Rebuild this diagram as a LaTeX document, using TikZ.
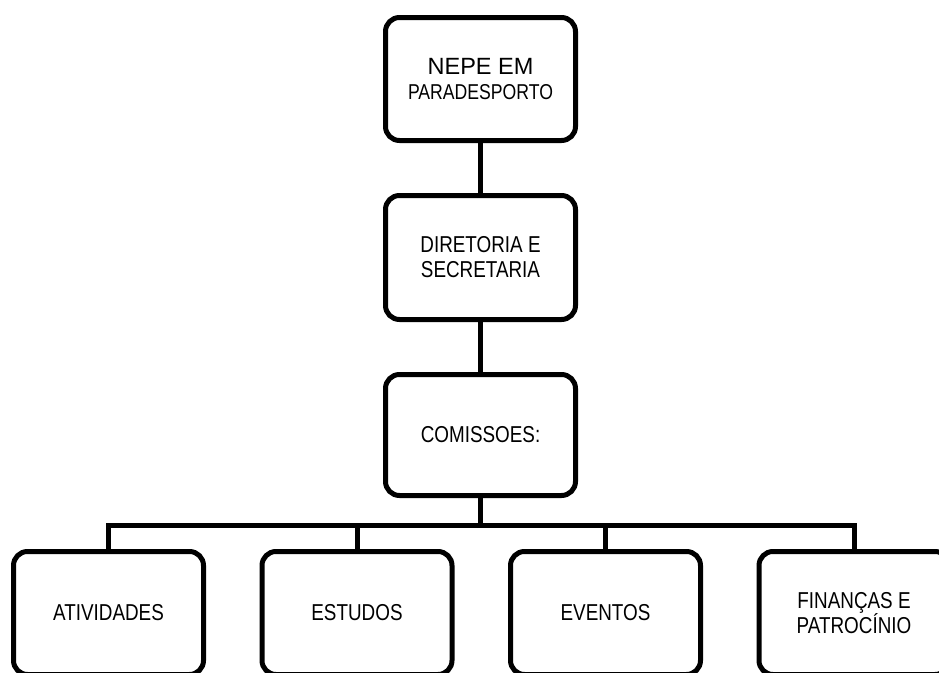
\documentclass[tikz,border=0pt]{standalone}
\usepackage{fontspec}
\setmainfont{Liberation Sans}[FakeStretch=0.82]
\newfontfamily\widefont{Liberation Sans}
\usetikzlibrary{positioning}

\begin{document}
\begin{tikzpicture}[x=1pt,y=1pt,
		box/.style = {draw,line width=5pt,rounded corners=14pt,align=center,
			minimum width=190pt,minimum height=123pt,inner sep=2pt,
			font=\fontsize{23}{25}\selectfont},
		link/.style = {line width=5pt}]
		\clip (0,0) rectangle (939,-672);
		\node [box] (nepe) at (480.5,-79) {{\widefont\fontsize{23.5}{26}\selectfont NEPE EM}\\{\fontsize{21.5}{25}\selectfont PARADESPORTO}};
		\node [box, below=50pt of nepe, minimum height=124pt] (dir) {DIRETORIA E\\SECRETARIA};
		\node [box, below=50pt of dir, minimum height=121pt] (com) {COMISSOES:};
		\coordinate [below=27pt of com] (bus);
		\node [box] (ativ) at (108.5,-613) {ATIVIDADES};
		\node [box, right=53.5pt of ativ] (est) {ESTUDOS};
		\node [box, right=53.5pt of est] (evt) {EVENTOS};
		\node [box, right=53.5pt of evt] (fin) {FINANÇAS E\\PATROCÍNIO};
		\draw [link] (nepe) -- (dir);
		\draw [link] (dir) -- (com);
		\draw [link] (com) -- (bus);
		\draw [link] (ativ.north) |- (bus) -| (fin.north);
		\draw [link] (est.north) -- (est.north |- bus);
		\draw [link] (evt.north) -- (evt.north |- bus);
	\end{tikzpicture}
\end{document}
